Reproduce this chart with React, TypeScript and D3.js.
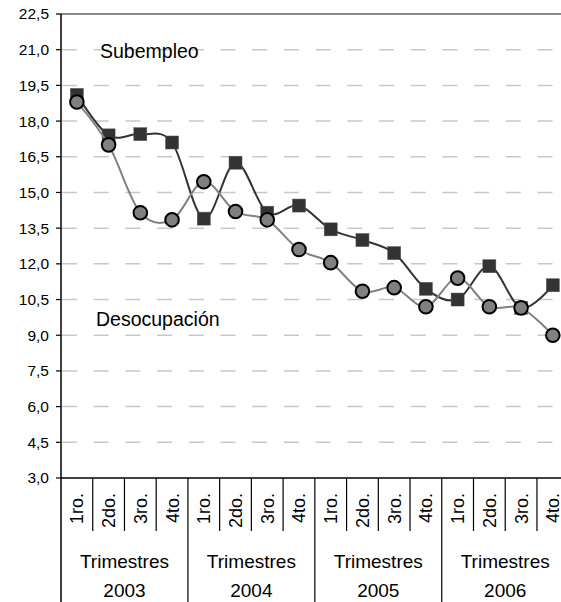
import React from "react";
import * as d3 from "d3";

const quarters = ["1ro.", "2do.", "3ro.", "4to."];
const years = ["2003", "2004", "2005", "2006"];
const groupLabel = "Trimestres";
const subempleo = [19.1, 17.4, 17.45, 17.1, 13.9, 16.25, 14.15, 14.45, 13.45, 13.0, 12.45, 10.95, 10.5, 11.9, 10.15, 11.1];
const desocupacion = [18.8, 17.0, 14.15, 13.85, 15.45, 14.2, 13.85, 12.6, 12.05, 10.85, 11.0, 10.2, 11.4, 10.2, 10.15, 9.0];
const yTicks = [3, 4.5, 6, 7.5, 9, 10.5, 12, 13.5, 15, 16.5, 18, 19.5, 21, 22.5];

const W = 561, H = 602;
const left = 61, top = 14, bottom = 478;
const band = 31.73;
const FONT = "'Liberation Sans', Arial, sans-serif";

export default function App() {
  const cats = d3.range(years.length * quarters.length);
  const x = d3.scaleBand<number>().domain(cats).range([left, left + band * cats.length]).padding(0);
  const y = d3.scaleLinear().domain([3, 22.5]).range([bottom, top]);
  const cx = (i: number) => (x(i) as number) + x.bandwidth() / 2;
  const line = d3.line<number>().x((_, i) => cx(i)).y((v) => y(v)).curve(d3.curveCatmullRom.alpha(0));
  const right = left + band * cats.length;
  const fmt = (v: number) => v.toFixed(1).replace(".", ",");

  return (
    <svg width={W} height={H} style={{ position: "absolute", left: 0, top: 0 }} fontFamily={FONT}>
      <rect width={W} height={H} fill="#fff" />
      {/* grid */}
      {yTicks.filter((t) => t > 3 && t < 22.5).map((t) => (
        <line key={t} x1={left + 1} x2={right} y1={y(t)} y2={y(t)} stroke="#c8c8c8" strokeWidth={1.5} strokeDasharray="15,16.7" />
      ))}
      {/* top border */}
      <line x1={left} x2={right} y1={y(22.5)} y2={y(22.5)} stroke="#888" strokeWidth={2} />
      {/* y axis */}
      <line x1={left} x2={left} y1={top} y2={H} stroke="#000" strokeWidth={1.5} />
      {yTicks.map((t) => (
        <g key={t}>
          <line x1={left - 5} x2={left} y1={y(t)} y2={y(t)} stroke="#000" strokeWidth={1.2} />
          <text x={left - 12} y={y(t)} dy="0.35em" textAnchor="end" fontSize={15.5} fill="#000">{fmt(t)}</text>
        </g>
      ))}
      {/* x axis */}
      <line x1={left} x2={right} y1={bottom} y2={bottom} stroke="#000" strokeWidth={1.5} />
      {cats.map((i) => {
        const xr = (x(i) as number) + x.bandwidth();
        const yearEnd = (i + 1) % quarters.length === 0;
        return <line key={"t" + i} x1={xr} x2={xr} y1={bottom} y2={yearEnd ? H : 531} stroke="#000" strokeWidth={1.2} />;
      })}
      {cats.map((i) => (
        <text key={"q" + i} transform={`translate(${cx(i)},493) rotate(-90)`} textAnchor="end" dy="0.36em" fontSize={18} fill="#000">
          {quarters[i % quarters.length]}
        </text>
      ))}
      {years.map((yr, k) => {
        const gx = ((x(k * 4) as number) + (x(k * 4 + 3) as number) + x.bandwidth()) / 2;
        return (
          <g key={yr}>
            <text x={gx} y={568} textAnchor="middle" fontSize={19} fill="#000">{groupLabel}</text>
            <text x={gx} y={597} textAnchor="middle" fontSize={19} fill="#000">{yr}</text>
          </g>
        );
      })}
      {/* labels */}
      <text x={100} y={58} fontSize={19.5} fill="#000">Subempleo</text>
      <text x={96} y={326} fontSize={19.5} fill="#000">Desocupación</text>
      {/* series: subempleo */}
      <path d={line(subempleo) || ""} fill="none" stroke="#333" strokeWidth={2} />
      {subempleo.map((v, i) => (
        <rect key={"s" + i} x={cx(i) - 6.5} y={y(v) - 6.5} width={13} height={13} fill="#333" stroke="#555" strokeWidth={0.5} />
      ))}
      {/* series: desocupacion */}
      <path d={line(desocupacion) || ""} fill="none" stroke="#808080" strokeWidth={2} />
      {desocupacion.map((v, i) => (
        <circle key={"d" + i} cx={cx(i)} cy={y(v)} r={6.8} fill="#808080" stroke="#000" strokeWidth={2} />
      ))}
    </svg>
  );
}
